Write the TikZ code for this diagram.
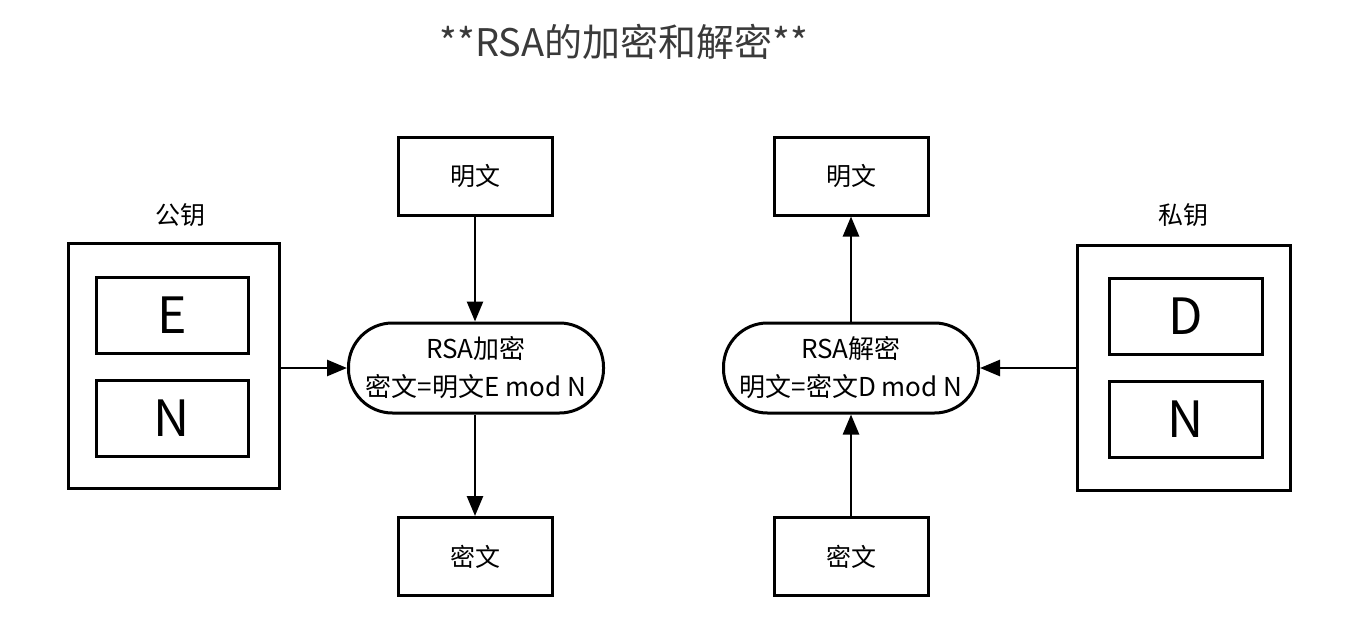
\documentclass[tikz,border=0pt]{standalone}
\usepackage{fontspec}
\setmainfont{Noto Sans CJK SC}
\usetikzlibrary{arrows.meta}
\definecolor{titlegrey}{HTML}{3A3A3A}
\begin{document}
\begin{tikzpicture}[x=1pt,y=-1pt,
  line width=3pt,
  box/.style={draw, minimum width=154pt, minimum height=78pt, inner sep=0pt, font=\fontsize{25}{30}\selectfont},
  keybox/.style={draw, minimum width=152pt, minimum height=76pt, inner sep=0pt, font=\fontsize{50}{56}\selectfont},
  outer/.style={draw, minimum width=211pt, minimum height=245pt, inner sep=0pt},
  proc/.style={draw, minimum width=255pt, minimum height=90pt, inner sep=0pt, rounded corners=44pt, align=center, font=\fontsize{26}{38}\selectfont},
  lbl/.style={font=\fontsize{25}{30}\selectfont, inner sep=0pt},
  arr/.style={-{Triangle[length=20pt,width=16pt]}, line width=2.6pt}
]
\useasboundingbox (0,0) rectangle (1346,634);
\node[font=\fontsize{38}{44}\selectfont, text=titlegrey] (title) at (624,42) {**RSA的加密和解密**};

% left side
\node[outer] (pub) at (173.5,365.5) {};
\node[lbl] (publbl) at (180,215) {公钥};
\node[keybox] (E) at (172,315) {E};
\node[keybox] (N1) at (172,418.5) {N};
\node[proc] (enc) at (476,368) {RSA加密\\密文=明文E mod N};
\node[box] (p1) at (475,176) {明文};
\node[box] (c1) at (475,556.5) {密文};
\draw[arr] (pub.east |- enc.west) -- (enc.west);
\draw[arr] (p1.south) -- (p1.south |- enc.north);
\draw[arr] (c1.north |- enc.south) -- (c1.north);

% right side
\node[outer, minimum width=213pt] (priv) at (1183.5,367.5) {};
\node[lbl] (privlbl) at (1183,215) {私钥};
\node[keybox, minimum width=153pt] (D) at (1185.5,316) {D};
\node[keybox, minimum width=153pt] (N2) at (1185.5,419) {N};
\node[proc] (dec) at (851,368) {RSA解密\\明文=密文D mod N};
\node[box] (p2) at (851,176) {明文};
\node[box] (c2) at (851,556.5) {密文};
\draw[arr] (priv.west |- dec.east) -- (dec.east);
\draw[arr] (dec.north) -- (p2.south);
\draw[arr] (c2.north) -- (dec.south);
\end{tikzpicture}
\end{document}
